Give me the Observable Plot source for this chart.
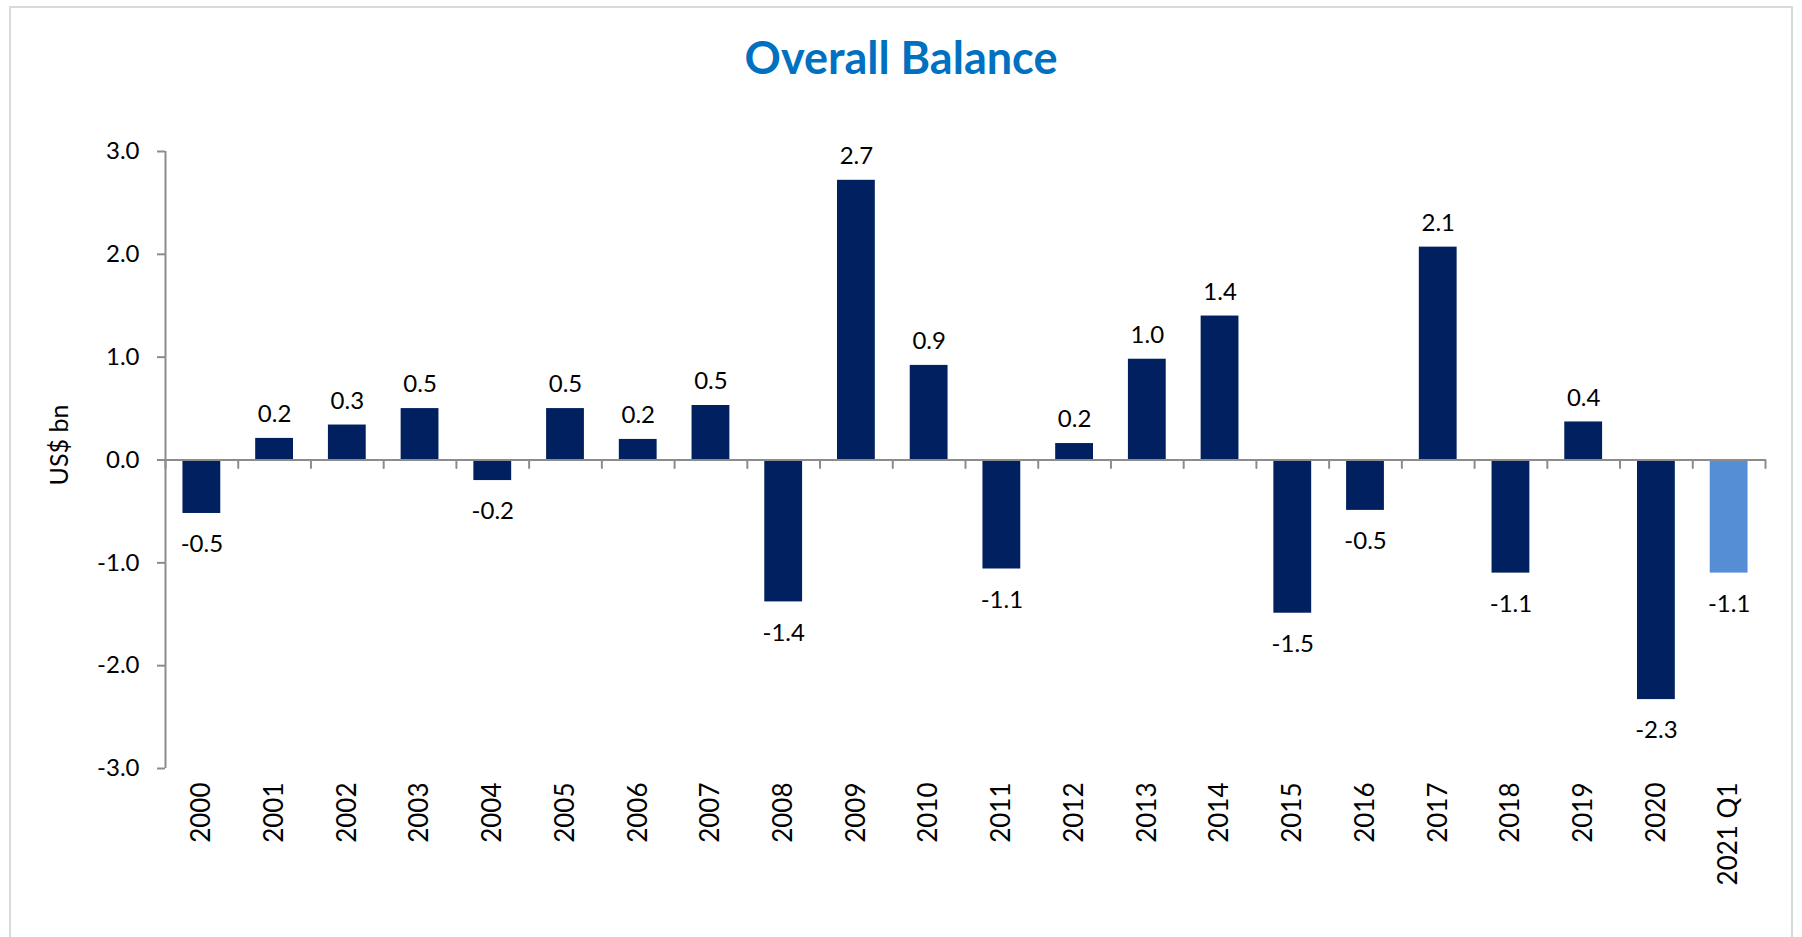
<!DOCTYPE html>
<html>
<head>
<meta charset="utf-8">
<script src="https://cdn.jsdelivr.net/npm/d3@7"></script>
<script src="https://cdn.jsdelivr.net/npm/@observablehq/plot@0.6"></script>
<style>
  html, body { margin: 0; padding: 0; background: #fff; width: 1802px; height: 937px; overflow: hidden; }
  #frame { position: absolute; left: 9px; top: 6px; width: 1784px; height: 960px; border: 2px solid #d9d9d9; border-bottom: none; box-sizing: border-box; }
  #title { position: absolute; left: 0; width: 1802px; top: 32px; height: 50px; line-height: 50px; text-align: center;
           font-family: Lato, "Open Sans", sans-serif; font-weight: bold; font-size: 45px; color: #0070C0; }
  #chart { position: absolute; left: 0; top: 100px; }
</style>
</head>
<body>
<div id="frame"></div>
<div id="title">Overall Balance</div>
<div id="chart"></div>
<script>
const categories = ["2000","2001","2002","2003","2004","2005","2006","2007","2008","2009","2010",
  "2011","2012","2013","2014","2015","2016","2017","2018","2019","2020","2021 Q1"];
const values = [-0.52, 0.21, 0.34, 0.50, -0.20, 0.50, 0.20, 0.53, -1.38, 2.72, 0.92,
  -1.06, 0.16, 0.98, 1.40, -1.49, -0.49, 2.07, -1.10, 0.37, -2.33, -1.10];
const yTicks = [-3, -2, -1, 0, 1, 2, 3];
const colors = { actual: "#002060", partial: "#558ED5" };

const data = categories.map((c, i) => ({ cat: c, value: values[i], kind: c.includes("Q") ? "partial" : "actual" }));

const W = 1802, H = 837, mL = 165, mR = 37, mT = 51, mB = 169;
const step = (W - mL - mR) / categories.length;
const axisGray = "#8c8c8c";
const font = "Lato, 'Open Sans', sans-serif";
const tickShape = { draw(context, l) { context.moveTo(0, 0); context.lineTo(0, -l); } };

const chart = Plot.plot({
  width: W, height: H,
  marginLeft: mL, marginRight: mR, marginTop: mT, marginBottom: mB,
  style: { fontFamily: font, fontSize: "24px", color: "#000", background: "transparent" },
  x: { domain: categories, paddingInner: 0.48, paddingOuter: 0.24, round: false },
  y: { domain: [-3, 3] },
  marks: [
    Plot.barY(data, { x: "cat", y: "value", fill: d => colors[d.kind] }),
    // vertical axis line
    Plot.ruleX([categories[0]], { x: d => d, y1: -3, y2: 3, dx: -step / 2, stroke: axisGray, strokeWidth: 2 }),
    // horizontal zero line
    Plot.ruleY([0], { stroke: axisGray, strokeWidth: 2 }),
    // category boundary ticks on zero line
    Plot.vector(categories, { x: d => d, y: 0, length: 8, rotate: 180, anchor: "start", shape: tickShape, dx: -step / 2, stroke: axisGray, strokeWidth: 2 }),
    Plot.vector([categories[categories.length - 1]], { x: d => d, y: 0, length: 8, rotate: 180, anchor: "start", shape: tickShape, dx: step / 2, stroke: axisGray, strokeWidth: 2 }),
    Plot.axisY({ ticks: yTicks, tickFormat: d => d.toFixed(1), tickSize: 8, tickPadding: 18, stroke: axisGray, strokeWidth: 2,
                 fontSize: 24, fill: "#000", label: null }),
    Plot.text(["US$ bn"], { text: d => d, frameAnchor: "left", textAnchor: "middle", rotate: -90, dx: -106, dy: -15, fontSize: 25, fill: "#000" }),
    Plot.axisX({ tickSize: 0, tickRotate: -90, tickPadding: 14, fontSize: 26, fill: "#000", label: null }),
    Plot.text(data.filter(d => d.value >= 0), { x: "cat", y: "value", text: d => d.value.toFixed(1), dy: -24, fontSize: 24, fill: "#000" }),
    Plot.text(data.filter(d => d.value < 0), { x: "cat", y: "value", text: d => d.value.toFixed(1), dy: 31, fontSize: 24, fill: "#000" })
  ]
});
document.getElementById("chart").appendChild(chart);
</script>
</body>
</html>
